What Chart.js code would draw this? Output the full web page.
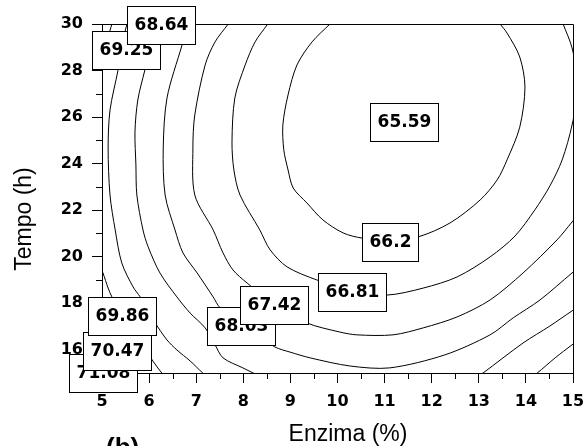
<!DOCTYPE html>
<html>
<head>
<meta charset="utf-8">
<script src="https://cdn.jsdelivr.net/npm/chart.js@4.4.0/dist/chart.umd.min.js"></script>
<style>
  body { margin: 0; background: #FFFFFF; }
  canvas { display: block; }
</style>
</head>
<body>
<canvas id="contour-chart" width="585" height="446"></canvas>
<script>
"use strict";

// Axis ticks (major get a label, minor are just short marks)
const xTicks = [5, 6, 7, 8, 9, 10, 11, 12, 13, 14, 15];
const xMinorTicks = [5.5, 6.5, 7.5, 8.5, 9.5, 10.5, 11.5, 12.5, 13.5, 14.5];
const yTicks = [16, 18, 20, 22, 24, 26, 28, 30];
const yMinorTicks = [17, 19, 21, 23, 25, 27, 29];

// Contour lines, as [enzima %, tempo h] pairs
const c662 = [[9.84, 30], [9.46, 29.23], [9.14, 28.24], [8.95, 26.95], [8.84, 25.66], [8.86, 24.59],
    [8.95, 23.73], [9.06, 22.95], [9.35, 22.31], [9.69, 21.58], [10.12, 21.02], [10.52, 20.80],
    [11.11, 20.72], [11.71, 20.85], [12.39, 21.45], [13.03, 22.44], [13.39, 23.30], [13.60, 24.16],
    [13.87, 25.57], [13.98, 27.29], [13.87, 28.58], [13.60, 29.61], [13.45, 30]];
const c6681 = [[8.52, 30], [8.25, 29.23], [8.04, 28.24], [7.82, 26.82], [7.76, 24.93], [7.80, 23.73],
    [7.93, 22.65], [8.35, 21.15], [8.57, 20.29], [8.93, 19.56], [9.56, 19.00], [10.31, 18.53],
    [11.05, 18.35], [11.82, 18.65], [12.54, 19.13], [13.24, 19.99], [13.77, 20.89], [14.19, 22.01],
    [14.51, 23.04], [14.77, 24.16], [14.98, 25.66], [15.11, 27.34], [14.98, 28.97], [14.79, 30]];
const c6742 = [[7.68, 30], [7.40, 29.23], [7.19, 28.24], [6.97, 26.09], [6.93, 24.67], [6.97, 22.65],
    [7.36, 21.15], [7.57, 20.16], [7.78, 19.43], [8.08, 18.87], [8.67, 17.92], [9.35, 17.15],
    [10.05, 16.76], [10.41, 16.64], [11.18, 16.64], [11.82, 16.94], [12.54, 17.41], [13.24, 18.14],
    [13.94, 19.30], [14.66, 20.72], [14.98, 21.49], [15.15, 21.92]];
const c6803 = [[6.83, 30], [6.70, 29.10], [6.38, 26.82], [6.30, 24.67], [6.34, 22.65], [6.55, 21.15],
    [6.72, 20.16], [7.02, 19.30], [7.36, 18.27], [7.51, 17.80], [8.14, 16.85], [8.67, 16.12],
    [8.99, 15.90], [9.42, 15.65], [10.27, 15.30], [11.11, 15.22], [12.28, 15.78], [13.24, 16.64],
    [13.73, 17.37], [14.30, 18.14], [14.98, 19.30], [15.15, 19.56]];
const c6864 = [[6.17, 30], [6.02, 28.88], [5.91, 28.02], [5.76, 26.73], [5.70, 25.36], [5.72, 23.94],
    [5.74, 22.65], [5.87, 21.15], [5.98, 20.42], [6.23, 19.30], [6.59, 18.27], [6.87, 17.58],
    [7.19, 16.94], [7.40, 16.21], [7.57, 15.65], [7.99, 15.22], [8.21, 15.00], [8.42, 14.79]];
const c6864b = [[12.98, 14.87], [13.09, 15.0], [13.94, 16.29], [14.51, 17.02], [14.98, 17.67], [15.15, 17.88]];
const c6925 = [[5.53, 30], [5.42, 29.10], [5.34, 28.02], [5.17, 26.30], [5.13, 24.67], [5.17, 22.65],
    [5.28, 21.15], [5.42, 19.73], [5.66, 18.70], [5.81, 18.27], [6.13, 17.15], [6.38, 16.42],
    [6.59, 15.99], [6.87, 15.52], [7.14, 15.0], [7.29, 14.79]];
const c6925b = [[14.09, 14.83], [14.24, 15.0], [14.62, 15.65], [14.98, 16.21], [15.15, 16.46]];
const c6986 = [[5.21, 30], [5.11, 29.31], [5.0, 28.54], [4.92, 28.02]];
const c6986b = [[4.92, 19.77], [5.02, 19.30], [5.13, 18.65], [5.21, 18.27], [5.59, 16.85], [6.02, 15.69],
    [6.17, 15.26], [6.27, 15.0], [6.36, 14.79]];
const c7047 = [[4.92, 17.62], [5.02, 17.28], [5.21, 16.42], [5.42, 15.56], [5.55, 15.0], [5.62, 14.79]];
const c7108 = [[4.92, 15.78], [5.05, 15.4], [5.17, 15.0], [5.22, 14.8]];

// Contour labels (drawn highest value first so the later boxes sit on top)
const labelText = ['71.08', '70.47', '69.86', '69.25', '68.64', '68.03', '67.42', '66.81', '66.2', '65.59'];
const labelX = [5.03, 5.31, 5.42, 5.51, 6.26, 7.95, 8.65, 10.30, 11.11, 11.41];
const labelY = [15.0, 15.95, 17.47, 28.88, 29.94, 17.0, 17.92, 18.46, 20.65, 25.79];

const contourPieces = [c662, c6681, c6742, c6803, c6864, c6864b, c6925, c6925b, c6986, c6986b, c7047, c7108];

const tickFont = { family: 'DejaVu Sans', weight: 'bold', size: 16 };

// Frame, minor ticks, axis titles and the boxed contour labels
const decorations = {
    id: 'decorations',
    afterDraw(chart) {
        const { ctx, chartArea: area, scales: { x, y } } = chart;
        ctx.save();
        ctx.strokeStyle = '#000000';
        ctx.lineWidth = 1;

        // top and right edges of the frame
        ctx.beginPath();
        ctx.moveTo(area.left + 0.5, area.top + 0.5);
        ctx.lineTo(area.right + 0.5, area.top + 0.5);
        ctx.lineTo(area.right + 0.5, area.bottom + 0.5);
        ctx.stroke();

        // minor ticks
        ctx.beginPath();
        xMinorTicks.forEach(v => {
            const px = Math.round(x.getPixelForValue(v)) + 0.5;
            ctx.moveTo(px, area.bottom);
            ctx.lineTo(px, area.bottom + 6);
        });
        yMinorTicks.forEach(v => {
            const py = Math.round(y.getPixelForValue(v)) + 0.5;
            ctx.moveTo(area.left, py);
            ctx.lineTo(area.left - 6, py);
        });
        ctx.stroke();

        // axis titles
        ctx.fillStyle = '#000000';
        ctx.font = '23px "Liberation Sans"';
        ctx.textAlign = 'center';
        ctx.textBaseline = 'alphabetic';
        ctx.fillText('Enzima (%)', 348, 441);

        ctx.save();
        ctx.translate(25, 219);
        ctx.rotate(-Math.PI / 2);
        ctx.textBaseline = 'middle';
        ctx.fillText('Tempo (h)', 0, 0);
        ctx.restore();

        ctx.font = 'bold 26px "Liberation Sans"';
        ctx.textAlign = 'left';
        ctx.fillText('(b)', 106, 456);

        // boxed contour labels
        ctx.font = 'bold 17px "DejaVu Sans"';
        ctx.textAlign = 'center';
        ctx.textBaseline = 'middle';
        labelText.forEach((txt, i) => {
            const cx = x.getPixelForValue(labelX[i]);
            const cy = y.getPixelForValue(labelY[i]);
            const w = Math.round(ctx.measureText(txt).width + 14);
            const h = 38;
            const left = Math.round(cx - w / 2);
            const top = Math.round(cy - h / 2);
            ctx.fillStyle = '#FFFFFF';
            ctx.fillRect(left, top, w, h);
            ctx.strokeRect(left + 0.5, top + 0.5, w, h);
            ctx.fillStyle = '#000000';
            ctx.fillText(txt, left + w / 2 + 0.5, top + h / 2 + 1);
        });

        ctx.restore();
    }
};

const ctx = document.getElementById('contour-chart').getContext('2d');

new Chart(ctx, {
    type: 'scatter',
    data: {
        datasets: contourPieces.map(piece => ({
            data: piece.map(([px, py]) => ({ x: px, y: py })),
            showLine: true,
            borderColor: '#000000',
            borderWidth: 1,
            pointRadius: 0,
            tension: 0.3
        }))
    },
    options: {
        responsive: false,
        animation: false,
        layout: { padding: { top: 24, right: 12, left: 0, bottom: 0 } },
        plugins: {
            legend: { display: false },
            tooltip: { enabled: false }
        },
        scales: {
            x: {
                type: 'linear',
                min: 5,
                max: 15,
                afterBuildTicks: scale => { scale.ticks = xTicks.map(v => ({ value: v })); },
                afterFit: scale => {
                    scale.height = 73;
                    scale.paddingLeft = 0;
                    scale.paddingRight = 0;
                },
                grid: { display: true, drawOnChartArea: false, drawTicks: true, tickLength: 10, color: '#000000' },
                border: { display: true, color: '#000000', width: 1 },
                ticks: { color: '#000000', font: tickFont, padding: 9, maxRotation: 0, autoSkip: false }
            },
            y: {
                type: 'linear',
                min: 15,
                max: 30,
                afterBuildTicks: scale => { scale.ticks = yTicks.map(v => ({ value: v })); },
                afterFit: scale => {
                    scale.width = 102;
                    scale.paddingTop = 0;
                    scale.paddingBottom = 0;
                },
                grid: { display: true, drawOnChartArea: false, drawTicks: true, tickLength: 10, color: '#000000' },
                border: { display: true, color: '#000000', width: 1 },
                ticks: { color: '#000000', font: tickFont, padding: 9, autoSkip: false }
            }
        }
    },
    plugins: [decorations]
});
</script>
</body>
</html>
